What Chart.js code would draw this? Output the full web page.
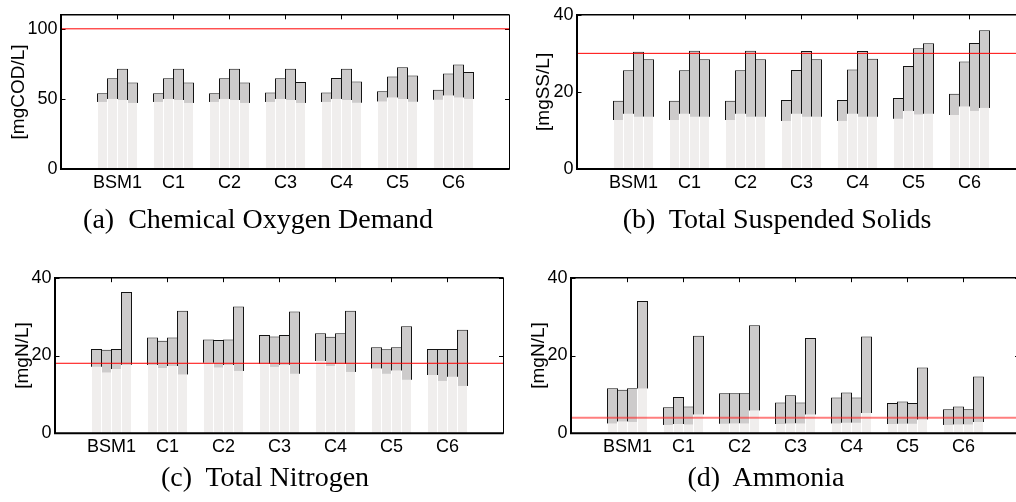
<!DOCTYPE html>
<html>
<head>
<meta charset="utf-8">
<title>Effluent quality</title>
<script src="https://cdn.jsdelivr.net/npm/chart.js@4.4.1/dist/chart.umd.min.js"></script>
<style>
  html, body { margin: 0; padding: 0; background: #fff; width: 1016px; height: 502px; overflow: hidden; }
  canvas { position: absolute; }
  .cap { position: absolute; font-family: "Liberation Serif", serif; font-size: 28px; line-height: 28px; color: #000; white-space: nowrap; transform: translateX(-50%); }
</style>
</head>
<body>
<canvas id="chartA" width="520" height="205" style="left:0;top:0"></canvas>
<canvas id="chartB" width="520" height="205" style="left:515px;top:0"></canvas>
<canvas id="chartC" width="515" height="205" style="left:0;top:260px"></canvas>
<canvas id="chartD" width="520" height="205" style="left:510px;top:260px"></canvas>
<div class="cap" style="left:258px;top:205px">(a)&nbsp; Chemical Oxygen Demand</div>
<div class="cap" style="left:777px;top:205px">(b)&nbsp; Total Suspended Solids</div>
<div class="cap" style="left:265px;top:463px">(c)&nbsp; Total Nitrogen</div>
<div class="cap" style="left:766px;top:463px">(d)&nbsp; Ammonia</div>
<script>
// configurations on the x axis
const categories = ['BSM1', 'C1', 'C2', 'C3', 'C4', 'C5', 'C6'];

// each row = one configuration, four bars (max on top, mean below)
const codMax = [
  [54.0, 64.8, 71.6, 61.7], [54.0, 64.8, 71.6, 61.7], [54.0, 64.8, 71.6, 61.7],
  [54.5, 64.8, 71.6, 62.0], [54.5, 65.0, 71.6, 62.4], [55.4, 66.0, 72.5, 66.7],
  [56.6, 68.1, 74.6, 69.2]
];
const codMean = [
  [47.9, 50.2, 49.3, 47.2], [47.9, 50.2, 49.3, 47.2], [47.9, 50.2, 49.3, 47.2],
  [47.9, 50.2, 49.3, 47.2], [47.9, 50.2, 49.3, 47.4], [48.4, 51.2, 50.0, 48.1],
  [49.5, 52.6, 51.2, 50.2]
];
const codLimit = 100;
const codTicks = [0, 50, 100];

const tssMax = [
  [17.7, 25.6, 30.4, 28.5], [17.7, 25.6, 30.7, 28.5], [17.7, 25.6, 30.7, 28.5],
  [17.9, 25.7, 30.6, 28.5], [17.9, 25.8, 30.6, 28.6], [18.4, 26.7, 31.3, 32.6],
  [19.5, 27.9, 32.7, 36.0]
];
const tssMean = [
  [12.7, 14.4, 13.6, 13.6], [12.7, 14.4, 13.6, 13.6], [12.7, 14.4, 13.6, 13.6],
  [12.5, 14.4, 13.6, 13.6], [12.5, 14.4, 13.6, 13.6], [13.1, 15.1, 14.2, 14.4],
  [14.0, 16.3, 15.1, 15.9]
];
const tssLimit = 30;
const tssTicks = [0, 20, 40];

const tnMax = [
  [21.7, 21.5, 21.7, 36.3], [24.6, 23.8, 24.6, 31.5], [24.1, 24.0, 24.1, 32.6],
  [25.3, 24.9, 25.3, 31.3], [25.7, 24.8, 25.7, 31.5], [22.1, 21.6, 22.1, 27.5],
  [21.7, 21.7, 21.7, 26.6]
];
const tnMean = [
  [17.2, 15.7, 16.5, 17.7], [17.6, 16.8, 17.3, 15.2], [18.2, 17.0, 17.6, 16.1],
  [17.9, 17.1, 17.7, 15.4], [18.6, 17.3, 17.9, 15.8], [16.7, 15.4, 16.2, 13.8],
  [15.0, 13.5, 14.6, 12.2]
];
const tnLimit = 18;
const tnTicks = [0, 20, 40];

const nhMax = [
  [11.6, 11.2, 11.6, 34.0], [6.7, 9.3, 6.9, 25.1], [10.3, 10.3, 10.3, 27.8],
  [7.9, 9.8, 7.9, 24.5], [9.2, 10.5, 9.2, 24.9], [7.8, 8.2, 7.8, 16.9],
  [6.2, 6.9, 6.2, 14.6]
];
const nhMean = [
  [2.6, 3.1, 3.0, 11.6], [2.2, 2.4, 2.3, 4.9], [2.5, 2.6, 2.6, 5.9],
  [2.4, 2.6, 2.6, 4.9], [2.6, 2.8, 2.8, 5.2], [2.4, 2.5, 2.5, 3.6],
  [2.2, 2.3, 2.3, 2.9]
];
const nhLimit = 4;
const nhTicks = [0, 20, 40];

const DARK = '#cdcbcb';
const LIGHT = '#f0eeed';
const SANS = '"Liberation Sans", Arial, sans-serif';

// empty slot on each side so groups sit at 1..7 of a 0..8 axis
const pad = (arr) => [null, ...arr, null];

function buildDatasets(maxRows, meanRows) {
  const sets = [];
  for (let b = 0; b < 4; b++) {
    sets.push({
      data: pad(meanRows.map(r => r[b])),
      backgroundColor: LIGHT,
      borderColor: '#ffffff',
      borderWidth: { top: 0, left: 1, right: 1, bottom: 0 },
      stack: 's' + b,
      order: 0
    });
    sets.push({
      data: pad(maxRows.map(r => r[b])),
      backgroundColor: DARK,
      borderColor: '#141414',
      borderWidth: { top: 1, left: 1, right: 1, bottom: 0 },
      stack: 's' + b,
      order: 1
    });
  }
  return sets;
}

// box, inward ticks and the red limit line
const framePlugin = {
  id: 'frame',
  beforeDatasetsDraw(chart, args, opts) {
    const { ctx, chartArea: a, scales: { x, y } } = chart;
    const t = 4;
    ctx.save();
    ctx.strokeStyle = '#000';
    ctx.lineWidth = 1;
    ctx.beginPath();
    for (let i = 1; i <= categories.length; i++) {
      const px = x.getPixelForValue(i);
      ctx.moveTo(px, a.top); ctx.lineTo(px, a.top + t + 0.5);
      ctx.moveTo(px, a.bottom); ctx.lineTo(px, a.bottom - t);
    }
    opts.ticks.forEach(v => {
      const py = Math.round(y.getPixelForValue(v)) + 0.5;
      ctx.moveTo(a.left, py); ctx.lineTo(a.left + t, py);
      ctx.moveTo(a.right, py); ctx.lineTo(a.right - t - 0.5, py);
    });
    ctx.stroke();
    ctx.restore();
  },
  afterDatasetsDraw(chart, args, opts) {
    const { ctx, chartArea: a, scales: { y } } = chart;
    ctx.save();
    // limit
    const ly = y.getPixelForValue(opts.limit);
    ctx.strokeStyle = opts.limitColor;
    ctx.lineWidth = opts.limitWidth;
    ctx.beginPath();
    ctx.moveTo(a.left, ly); ctx.lineTo(a.right, ly);
    ctx.stroke();
    // axes box
    ctx.strokeStyle = '#000';
    ctx.lineWidth = 1.5;
    ctx.beginPath();
    ctx.moveTo(a.left, a.top); ctx.lineTo(a.right, a.top);
    ctx.stroke();
    ctx.lineWidth = 1;
    ctx.beginPath();
    ctx.moveTo(a.right, a.top); ctx.lineTo(a.right, a.bottom);
    ctx.stroke();
    ctx.lineWidth = 2;
    ctx.beginPath();
    ctx.moveTo(a.left - 0.5, a.top - 0.75); ctx.lineTo(a.left - 0.5, a.bottom + 1);
    ctx.moveTo(a.left - 1.5, a.bottom); ctx.lineTo(a.right, a.bottom);
    ctx.stroke();
    ctx.restore();
  }
};

function makePanel(id, p) {
  return new Chart(document.getElementById(id), {
    type: 'bar',
    data: { labels: pad(categories).map(c => c || ''), datasets: buildDatasets(p.max, p.mean) },
    plugins: [framePlugin],
    options: {
      responsive: false,
      animation: false,
      events: [],
      categoryPercentage: 40 / 56,
      barPercentage: 1.1,
      layout: { padding: { top: p.areaTop, right: p.padRight, left: 0, bottom: 0 } },
      plugins: {
        legend: { display: false },
        tooltip: { enabled: false },
        frame: { limit: p.limit, limitColor: p.limitColor, limitWidth: p.limitWidth, ticks: p.ticks }
      },
      scales: {
        x: {
          stacked: true,
          offset: false,
          grid: { display: false, drawTicks: false },
          border: { display: false },
          ticks: { autoSkip: false, maxRotation: 0, padding: 3, color: '#000', font: { family: SANS, size: 18 } },
          afterFit: (s) => { s.height = p.xHeight; }
        },
        y: {
          stacked: false,
          min: 0,
          max: p.yMax,
          grid: { display: false, drawTicks: false },
          border: { display: false },
          afterBuildTicks: (s) => { s.ticks = p.ticks.map(v => ({ value: v })); },
          ticks: { padding: 4, color: '#000', font: { family: SANS, size: 18 } },
          title: {
            display: true, text: p.title, color: '#000',
            font: { family: SANS, size: 19 },
            padding: { top: p.titlePad, bottom: 0 }
          },
          afterFit: (s) => { s.width = p.axisW; }
        }
      }
    }
  });
}

makePanel('chartA', {
  max: codMax, mean: codMean, limit: codLimit, ticks: codTicks, yMax: 110,
  title: '[mgCOD/L]', limitColor: '#ff0000', limitWidth: 1,
  areaTop: 13, padRight: 10.5, xHeight: 36, axisW: 61.5, titlePad: 7.6
});
makePanel('chartB', {
  max: tssMax, mean: tssMean, limit: tssLimit, ticks: tssTicks, yMax: 40,
  title: '[mgSS/L]', limitColor: '#ff0000', limitWidth: 1,
  areaTop: 13, padRight: 9.5, xHeight: 36, axisW: 62.5, titlePad: 17.6
});
makePanel('chartC', {
  max: tnMax, mean: tnMean, limit: tnLimit, ticks: tnTicks, yMax: 40,
  title: '[mgN/L]', limitColor: '#ff0000', limitWidth: 1,
  areaTop: 17.7, padRight: 11.5, xHeight: 31.7, axisW: 55.5, titlePad: 11.1
});
makePanel('chartD', {
  max: nhMax, mean: nhMean, limit: nhLimit, ticks: nhTicks, yMax: 40,
  title: '[mgN/L]', limitColor: 'rgba(255,40,40,0.6)', limitWidth: 2,
  areaTop: 17.7, padRight: 10.5, xHeight: 31.7, axisW: 61.5, titlePad: 17.6
});
</script>
</body>
</html>
